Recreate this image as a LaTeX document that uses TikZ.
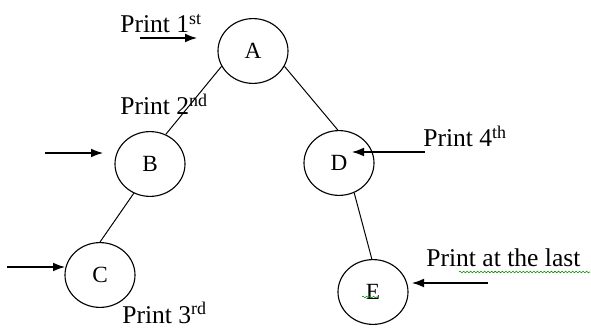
\documentclass[tikz,border=0pt]{standalone}
\usepackage{fontspec}
\setmainfont{Liberation Serif}
\usetikzlibrary{arrows.meta,positioning,shapes.geometric,decorations.pathmorphing}

\begin{document}
\begin{tikzpicture}[
  vertex/.style={draw, ellipse, line width=0.8pt, minimum width=1.75cm, minimum height=1.62cm, font=\fontsize{16.5}{18}\selectfont},
  branch/.style={line width=0.7pt},
  pointer/.style={-{Latex[length=0.3cm,width=0.22cm]}, line width=0.8pt},
  printlbl/.style={anchor=base west, inner sep=0pt, font=\fontsize{18.2}{20}\selectfont},
  spell/.style={draw=green!55!black, line width=0.4pt, decorate, decoration={snake, amplitude=0.6pt, segment length=2.5pt}}
]
  \useasboundingbox (0,0) rectangle (14.775,8.225);
  % Tree nodes
  \node[vertex] (A) at (6.325,6.95) {A};
  \node[vertex] (B) at (3.75,4.125) {B};
  \node[vertex] (C) at (2.5,1.35) {C};
  \node[vertex] (D) at (8.475,4.15) {D};
  \node[vertex] (E) at (9.325,0.925) {E};
  % Tree edges
  \draw[branch] (A.206) -- (B.62);
  \draw[branch] (A.334) -- (D.92);
  \draw[branch] (B.241) -- (C.90);
  \draw[branch] (D.297) -- (E.92);
  % Labels
  \node[printlbl] (p1) at (3.0,7.4) {Print 1\textsuperscript{st}};
  \node[printlbl] (p2) at (3.0,5.35) {Print 2\textsuperscript{nd}};
  \node[printlbl] (p3) at (3.05,0.14) {Print 3\textsuperscript{rd}};
  \node[printlbl] (p4) at (10.575,4.55) {Print 4\textsuperscript{th}};
  \node[printlbl] (p5) at (10.65,1.55) {Print at the last};
  % Arrows
  \coordinate (a1s) at (3.5,7.275);   \coordinate (a1e) at (4.925,7.275);
  \coordinate (a2s) at (1.125,4.4);   \coordinate (a2e) at (2.575,4.4);
  \coordinate (a3s) at (0.175,1.55);  \coordinate (a3e) at (1.625,1.55);
  \coordinate (a4s) at (10.625,4.425); \coordinate (a4e) at (8.8,4.425);
  \coordinate (a5s) at (12.2,1.15);   \coordinate (a5e) at (10.3,1.15);
  \draw[pointer] (a1s) -- (a1e);
  \draw[pointer] (a2s) -- (a2e);
  \draw[pointer] (a3s) -- (a3e);
  \draw[pointer] (a4s) -- (a4e);
  \draw[pointer] (a5s) -- (a5e);
  % Spell-check marks
  \draw[spell] (11.475,1.425) -- (14.75,1.425);
  \draw[spell] (9.05,0.8) -- (9.425,0.8);
\end{tikzpicture}
\end{document}
